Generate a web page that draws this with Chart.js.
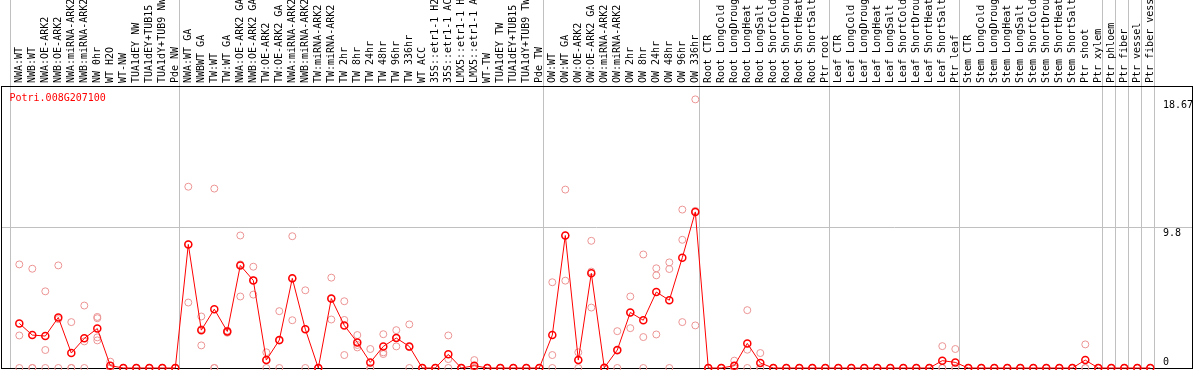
<!DOCTYPE html>
<html><head><meta charset="utf-8">
<script src="https://cdn.jsdelivr.net/npm/chart.js@4.4.1/dist/chart.umd.min.js"></script>
<style>html,body{margin:0;padding:0;background:#fff;overflow:hidden}canvas{display:block}</style>
</head><body>
<canvas id="c" width="1194" height="370"></canvas>
<script>
const geneId = 'Potri.008G207100';

const categories = [
 'NWA:WT','NWB:WT','NWA:OE-ARK2','NWB:OE-ARK2','NWA:miRNA-ARK2','NWB:miRNA-ARK2','NW 0hr','WT H2O','WT-NW','TUA1dEY NW','TUA1dEY+TUB15 NW','TUA1dY+TUB9 NW','Pde NW',
 'NWA:WT GA','NWBWT GA','TW:WT','TW:WT GA','NWA:OE-ARK2 GA','NWB:OE-ARK2 GA','TW:OE-ARK2','TW:OE-ARK2 GA','NWA:miRNA-ARK2','NWB:miRNA-ARK2','TW:miRNA-ARK2','TW:miRNA-ARK2',
 'TW 2hr','TW 8hr','TW 24hr','TW 48hr','TW 96hr','TW 336hr','WT ACC','35S::etr1-1 H2O','35S::etr1-1 ACC','LMX5::etr1-1 H2O','LMX5::etr1-1 ACC','WT-TW','TUA1dEY TW','TUA1dEY+TUB15 TW','TUA1dY+TUB9 TW','Pde TW',
 'OW:WT','OW:WT GA','OW:OE-ARK2','OW:OE-ARK2 GA','OW:miRNA-ARK2','OW:miRNA-ARK2','OW 2hr','OW 8hr','OW 24hr','OW 48hr','OW 96hr','OW 336hr',
 'Root CTR','Root LongCold','Root LongDrought','Root LongHeat','Root LongSalt','Root ShortCold','Root ShortDrought','Root ShortHeat','Root ShortSalt','Ptr root',
 'Leaf CTR','Leaf LongCold','Leaf LongDrought','Leaf LongHeat','Leaf LongSalt','Leaf ShortCold','Leaf ShortDrought','Leaf ShortHeat','Leaf ShortSalt','Ptr leaf',
 'Stem CTR','Stem LongCold','Stem LongDrought','Stem LongHeat','Stem LongSalt','Stem ShortCold','Stem ShortDrought','Stem ShortHeat','Stem ShortSalt','Ptr shoot',
 'Ptr xylem','Ptr phloem','Ptr fiber','Ptr vessel','Ptr fiber vessel'
];

const meanValues = [
 3.10, 2.29, 2.22, 3.51, 1.04, 2.06, 2.74, 0.16, 0, 0, 0, 0, 0,
 8.59, 2.63, 4.09, 2.54, 7.13, 6.09, 0.55, 1.94, 6.23, 2.70, 0, 4.83, 2.96, 1.78, 0.39, 1.50, 2.08, 1.50, 0, 0, 0.95, 0, 0.16, 0, 0, 0, 0, 0,
 2.29, 9.21, 0.55, 6.58, 0.02, 1.25, 3.86, 3.32, 5.28, 4.71, 7.67, 10.85,
 0, 0, 0.16, 1.71, 0.35, 0, 0, 0, 0, 0,
 0, 0, 0, 0, 0, 0, 0, 0, 0.51, 0.39,
 0, 0, 0, 0, 0, 0, 0, 0, 0, 0.55,
 0, 0, 0, 0, 0
];

const rep1 = [
 7.20, 6.90, 5.33, 7.13, 3.19, 4.34, 3.55, 0.44, 0, 0, 0, 0, 0,
 12.60, 3.58, 12.47, 2.60, 9.21, 7.04, 1.09, 3.95, 9.16, 5.40, 0, 6.28, 4.64, 2.29, 1.32, 2.35, 2.63, 3.03, 0, 0, 2.26, 0, 0.55, 0, 0, 0, 0, 0,
 5.96, 12.40, 1.09, 8.84, 0, 2.56, 4.97, 7.89, 6.93, 7.34, 11.01, 18.67,
 0, 0, 0.51, 4.02, 1.04, 0, 0, 0, 0, 0,
 0, 0, 0, 0, 0, 0, 0, 0, 1.52, 1.32,
 0, 0, 0, 0, 0, 0, 0, 0, 0, 1.64,
 0, 0, 0, 0, 0
];

const rep2 = [
 2.26, 0, 1.25, 3.40, 0, 1.85, 3.46, 0, 0, 0, 0, 0, 0,
 8.60, 2.70, 0, 2.50, 7.20, 6.10, 0.55, 1.90, 6.20, 2.70, 0, 4.80, 3.34, 1.60, 0, 1.09, 2.10, 1.45, 0, 0, 0.62, 0, 0, 0, 0, 0, 0, 0,
 0.90, 9.20, 0.55, 6.70, 0, 1.20, 3.85, 2.15, 6.44, 6.88, 8.91, 10.92,
 0, 0, 0, 1.27, 0, 0, 0, 0, 0, 0,
 0, 0, 0, 0, 0, 0, 0, 0, 0, 0,
 0, 0, 0, 0, 0, 0, 0, 0, 0, 0,
 0, 0, 0, 0, 0
];

const rep3 = [
 0, 0, 0, 0, 0, 0, 2.13, 0, 0, 0, 0, 0, 0,
 4.55, 1.57, 0, 2.45, 4.97, 5.10, 0, 0, 3.32, 0, 0, 3.37, 0.90, 1.43, 0, 0.97, 1.50, 0, 0, 0, 0, 0, 0, 0, 0, 0, 0, 0,
 0, 6.07, 0, 4.20, 0, 0, 2.77, 0, 2.33, 0, 3.19, 2.96,
 0, 0, 0, 0, 0, 0, 0, 0, 0, 0,
 0, 0, 0, 0, 0, 0, 0, 0, 0, 0,
 0, 0, 0, 0, 0, 0, 0, 0, 0, 0,
 0, 0, 0, 0, 0
];

const rep4 = [
 null, null, null, null, null, null, 1.92, null, null, null, null, null, null
];

const groupStarts = [0, 13, 41, 53, 63, 73, 84, 85, 86, 87, 88];
const yTickValues = [0, 9.8, 18.67];
const yMax = 19.6;

const FONT = {family: '"DejaVu Sans Mono", monospace', size: 10};
const GRID_GRAY = '#c0c0c0';
const CLEAR = 'rgba(0,0,0,0)';
const PINK = 'rgb(236,148,148)';

const meanPoints = meanValues.map((v, i) => ({x: i, y: v}));
const repPoints = [];
[rep1, rep2, rep3, rep4].forEach(arr => arr.forEach((v, i) => {
  if (v !== null && v !== undefined) repPoints.push({x: i, y: v});
}));

const titlePlugin = {
  id: 'geneTitle',
  afterDraw(chart) {
    const {ctx, chartArea} = chart;
    ctx.save();
    ctx.font = '10px "DejaVu Sans Mono", monospace';
    ctx.fillStyle = '#ff0000';
    ctx.textBaseline = 'alphabetic';
    ctx.textAlign = 'left';
    ctx.fillText(geneId, chartArea.left + 8.5, chartArea.top + 15);
    ctx.restore();
  }
};

new Chart(document.getElementById('c'), {
  type: 'line',
  data: {
    datasets: [
      {
        data: meanPoints, xAxisID: 'x', yAxisID: 'y',
        borderColor: '#ff0000', borderWidth: 1, tension: 0,
        pointRadius: 3.5, pointBorderWidth: 1.5, pointBorderColor: '#ff0000',
        pointBackgroundColor: CLEAR, clip: false
      },
      {
        data: repPoints, xAxisID: 'x', yAxisID: 'y', showLine: false,
        pointRadius: 3.5, pointBorderWidth: 1, pointBorderColor: PINK,
        pointBackgroundColor: CLEAR, borderColor: PINK, clip: false
      }
    ]
  },
  options: {
    responsive: false, animation: false, devicePixelRatio: 1,
    layout: {padding: 0, autoPadding: false},
    plugins: {legend: {display: false}, tooltip: {enabled: false}},
    events: [],
    scales: {
      x: {
        type: 'linear', position: 'top', min: -1.408, max: 90.208,
        afterBuildTicks: s => {
          const t = categories.map((_, i) => ({value: i}));
          groupStarts.forEach(g => t.push({value: g - 0.64}));
          t.sort((a, b) => a.value - b.value);
          s.ticks = t;
        },
        afterFit: s => { s.height = 86; s.paddingLeft = 0; s.paddingRight = 0; },
        ticks: {
          autoSkip: false, maxRotation: 90, minRotation: 90, padding: -83, labelOffset: 12,
          color: '#000', font: FONT,
          callback: v => Number.isInteger(v) ? (categories[v] || '') : ''
        },
        grid: {
          display: true, drawOnChartArea: true, drawTicks: true, tickLength: 86, lineWidth: 1,
          color: c => (c.tick && !Number.isInteger(c.tick.value)) ? GRID_GRAY : CLEAR
        },
        border: {display: true, color: '#000', width: 1}
      },
      xb: {
        type: 'linear', position: 'bottom',
        afterFit: s => { s.height = 2; s.paddingLeft = 0; s.paddingRight = 0; },
        ticks: {display: false},
        grid: {display: true, drawOnChartArea: false, drawTicks: false, color: CLEAR},
        border: {display: true, color: '#000', width: 1}
      },
      y: {
        type: 'linear', position: 'right', min: 0, max: yMax,
        afterBuildTicks: s => { s.ticks = yTickValues.map(v => ({value: v})); },
        afterFit: s => { s.width = 2; s.paddingTop = 0; s.paddingBottom = 0; },
        ticks: {
          autoSkip: false, mirror: true, crossAlign: 'far', padding: 1,
          color: '#000', font: FONT,
          callback: v => v === 0 ? [String(v), ''] : ['', String(v)]
        },
        grid: {
          display: true, drawTicks: false, lineWidth: 1,
          color: c => (c.tick && c.tick.value === 9.8) ? GRID_GRAY : CLEAR
        },
        border: {display: true, color: '#000', width: 1}
      },
      yl: {
        type: 'linear', position: 'left',
        afterFit: s => { s.width = 1; s.paddingTop = 0; s.paddingBottom = 0; },
        ticks: {display: false},
        grid: {display: true, drawOnChartArea: false, drawTicks: false, color: CLEAR},
        border: {display: true, color: '#000', width: 1}
      }
    }
  },
  plugins: [titlePlugin]
});
</script>
</body></html>
